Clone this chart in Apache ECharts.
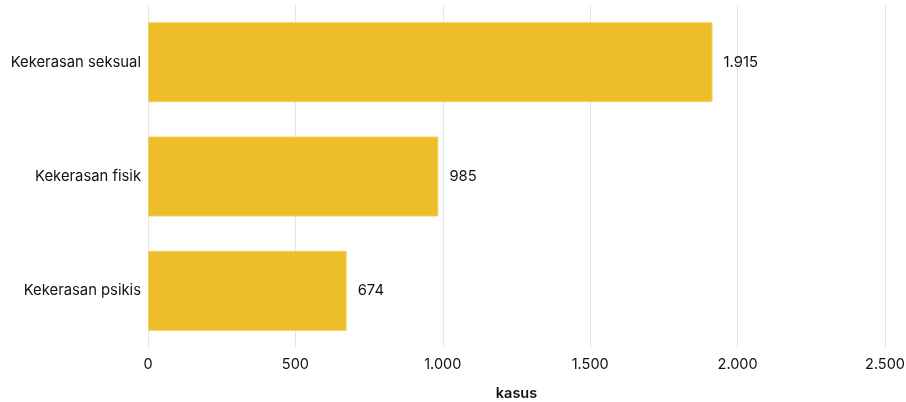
<!DOCTYPE html>
<html><head><meta charset="utf-8">
<script src="https://cdn.jsdelivr.net/npm/echarts@6/dist/echarts.min.js"></script>
<style>html,body{margin:0;padding:0;background:#fff}#c{width:906px;height:402px}</style>
</head><body><div id="c"></div>
<script>
const categories = ["Kekerasan seksual", "Kekerasan fisik", "Kekerasan psikis"];
const values = [1915, 985, 674];
const axisName = "kasus";
function fmt(v){ return String(v).replace(/\B(?=(\d{3})+(?!\d))/g, "."); }
const chart = echarts.init(document.getElementById('c'));
const F = 'Inter, "Noto Sans", sans-serif';
chart.setOption({
  animation:false,
  grid:{left:148,right:21,top:5,bottom:54,containLabel:false,outerBoundsMode:'none'},
  xAxis:{type:'value',min:0,max:2500,interval:500,
    name:axisName,nameLocation:'middle',nameGap:38,
    nameTextStyle:{fontFamily:F,fontSize:14.5,fontWeight:600,color:'#111'},
    axisLine:{show:false},axisTick:{show:false},
    axisLabel:{fontFamily:F,fontSize:14.5,color:'#111',margin:9,formatter:fmt},
    splitLine:{lineStyle:{color:'#e6e6e6',width:1}}},
  yAxis:{type:'category',data:categories,inverse:true,
    axisLine:{show:true,lineStyle:{color:'#e6e6e6'}},axisTick:{show:false},
    axisLabel:{fontFamily:F,fontSize:14.8,color:'#111',margin:7}},
  series:[{type:'bar',data:values,barWidth:80,
    itemStyle:{color:'#EEBE2A',borderColor:'#F3CF63',borderWidth:1},
    label:{show:true,position:'right',distance:11,fontFamily:F,fontSize:14.8,color:'#111',
      formatter:p=>fmt(p.value)}}]
});
</script></body></html>
